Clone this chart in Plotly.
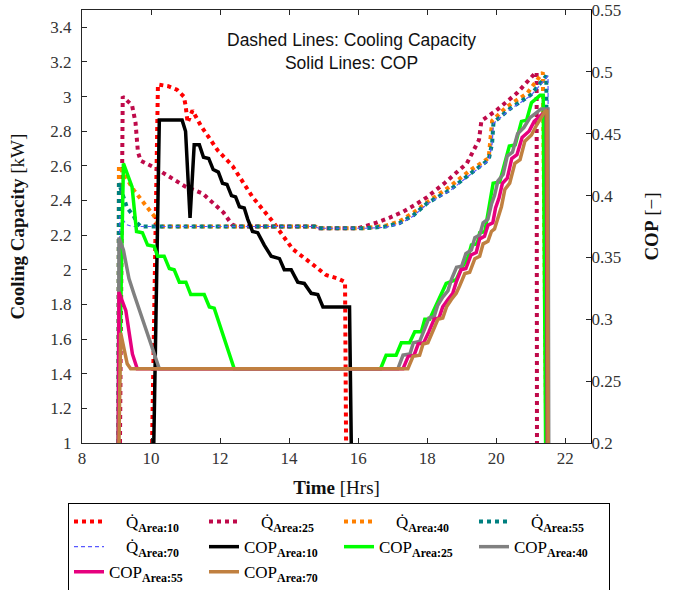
import plotly.graph_objects as go

# ---------------- data ----------------
# Cooling capacity [kW] (left axis)
t_q10 = [10.03, 10.2, 10.5, 10.75, 10.95, 11.0, 11.06, 11.2, 11.45, 11.93, 12.36, 12.94, 13.52, 14.1, 14.69, 15.07, 15.4, 15.62, 15.65]
q_q10 = [1.0, 3.07, 3.06, 3.04, 3.0, 2.95, 2.85, 2.92, 2.83, 2.69, 2.6, 2.42, 2.28, 2.12, 2.03, 1.97, 1.95, 1.93, 1.0]

t_q25 = [9.1, 9.18, 9.45, 9.55, 9.62, 9.7, 10.1, 10.5, 11.0, 11.5, 11.85, 12.1, 12.35, 12.5, 14.75, 14.85, 16.0, 16.5, 16.9, 17.3, 17.65, 18.0, 18.5, 19.15, 19.5, 19.57, 20.0, 20.6, 21.1, 21.17, 21.18]
q_q25 = [1.0, 3.0, 2.95, 2.85, 2.68, 2.63, 2.59, 2.54, 2.48, 2.44, 2.38, 2.33, 2.26, 2.25, 2.25, 2.24, 2.24, 2.27, 2.30, 2.335, 2.375, 2.42, 2.5, 2.615, 2.75, 2.86, 2.92, 3.02, 3.13, 3.14, 1.0]

t_q40 = [9.05, 9.07, 9.5, 9.8, 10.09, 10.2, 10.3, 14.75, 14.85, 16.2, 16.8, 17.2, 17.6, 18.0, 18.65, 19.25, 19.78, 19.83, 19.88, 20.3, 20.9, 21.35, 21.45]
q_q40 = [1.0, 2.6, 2.46, 2.385, 2.31, 2.255, 2.25, 2.25, 2.24, 2.24, 2.255, 2.28, 2.33, 2.39, 2.48, 2.575, 2.645, 2.75, 2.86, 2.94, 3.02, 3.14, 1.0]

t_q55 = [9.05, 9.07, 9.3, 9.5, 9.6, 9.7, 14.75, 14.85, 16.2, 16.8, 17.2, 17.6, 18.0, 18.65, 19.25, 19.78, 19.88, 19.92, 20.4, 21.0, 21.45, 21.5]
q_q55 = [1.0, 2.5, 2.36, 2.31, 2.27, 2.25, 2.25, 2.24, 2.24, 2.25, 2.27, 2.315, 2.385, 2.46, 2.555, 2.635, 2.73, 2.85, 2.93, 3.01, 3.12, 1.0]

t_q70 = [9.05, 9.1, 9.3, 9.45, 14.75, 14.85, 16.2, 16.8, 17.2, 17.6, 18.0, 18.65, 19.25, 19.78, 19.88, 19.92, 20.4, 21.0, 21.5, 21.53]
q_q70 = [1.0, 2.31, 2.26, 2.25, 2.25, 2.24, 2.24, 2.245, 2.265, 2.31, 2.38, 2.455, 2.55, 2.63, 2.725, 2.845, 2.925, 3.005, 3.12, 1.0]

# COP [-] (right axis)
t_c10 = [10.08, 10.24, 10.9, 11.0, 11.13, 11.25, 11.4, 11.52, 11.67, 11.8, 11.95, 12.07, 12.2, 12.33, 12.45, 12.56, 12.7, 12.8, 12.94, 13.09, 13.28, 13.48, 13.72, 13.86, 14.06, 14.25, 14.44, 14.64, 14.83, 14.98, 15.75, 15.8]
c_c10 = [0.2, 0.461, 0.461, 0.452, 0.382, 0.441, 0.441, 0.431, 0.43, 0.421, 0.419, 0.41, 0.409, 0.40, 0.399, 0.391, 0.39, 0.381, 0.371, 0.37, 0.36, 0.351, 0.349, 0.34, 0.34, 0.33, 0.329, 0.321, 0.32, 0.31, 0.31, 0.2]

t_c25 = [9.05, 9.2, 9.45, 9.58, 9.75, 9.9, 10.09, 10.19, 10.38, 10.53, 10.67, 10.82, 11.01, 11.15, 11.54, 11.69, 11.83, 12.41, 16.65, 16.81, 17.1, 17.25, 17.49, 17.64, 17.83, 17.93, 18.07, 18.27, 18.41, 18.55, 18.84, 18.99, 19.18, 19.28, 19.45, 19.52, 19.67, 19.8, 19.91, 20.1, 20.38, 20.55, 20.73, 20.88, 21.02, 21.27, 21.36, 21.43]
c_c25 = [0.2, 0.426, 0.407, 0.371, 0.37, 0.36, 0.359, 0.351, 0.351, 0.341, 0.34, 0.33, 0.33, 0.32, 0.32, 0.31, 0.309, 0.26, 0.26, 0.271, 0.271, 0.281, 0.281, 0.29, 0.29, 0.3, 0.3, 0.312, 0.32, 0.329, 0.332, 0.341, 0.35, 0.36, 0.361, 0.37, 0.371, 0.391, 0.41, 0.411, 0.44, 0.441, 0.46, 0.461, 0.475, 0.481, 0.481, 0.2]

t_c40 = [9.05, 9.07, 9.2, 9.36, 9.51, 10.24, 17.15, 17.3, 17.5, 17.6, 17.78, 17.9, 18.05, 18.2, 18.3, 18.45, 18.6, 18.7, 18.85, 19.0, 19.12, 19.28, 19.38, 19.52, 19.62, 19.76, 19.86, 19.95, 20.05, 20.2, 20.32, 20.47, 20.62, 20.8, 20.98, 21.3, 21.5, 21.52]
c_c40 = [0.2, 0.366, 0.356, 0.333, 0.32, 0.26, 0.26, 0.271, 0.272, 0.281, 0.282, 0.291, 0.301, 0.302, 0.311, 0.318, 0.323, 0.332, 0.342, 0.343, 0.353, 0.356, 0.366, 0.368, 0.378, 0.381, 0.393, 0.40, 0.412, 0.417, 0.432, 0.435, 0.45, 0.455, 0.463, 0.47, 0.47, 0.2]

t_c55 = [9.05, 9.07, 9.27, 9.46, 9.6, 17.3, 17.45, 17.62, 17.74, 17.9, 18.05, 18.2, 18.34, 18.45, 18.6, 18.74, 18.84, 18.98, 19.12, 19.27, 19.42, 19.52, 19.66, 19.76, 19.9, 19.98, 20.08, 20.18, 20.32, 20.45, 20.6, 20.75, 20.95, 21.1, 21.38, 21.45, 21.48]
c_c55 = [0.2, 0.322, 0.307, 0.272, 0.26, 0.26, 0.27, 0.271, 0.28, 0.281, 0.29, 0.3, 0.301, 0.31, 0.316, 0.321, 0.33, 0.34, 0.341, 0.352, 0.354, 0.365, 0.367, 0.376, 0.378, 0.39, 0.398, 0.41, 0.414, 0.43, 0.433, 0.447, 0.452, 0.46, 0.467, 0.468, 0.2]

t_c70 = [9.07, 9.12, 9.31, 9.41, 17.44, 17.59, 17.78, 17.88, 18.02, 18.17, 18.31, 18.45, 18.56, 18.7, 18.84, 18.94, 19.09, 19.23, 19.38, 19.52, 19.62, 19.76, 19.86, 19.95, 20.06, 20.15, 20.25, 20.39, 20.54, 20.69, 20.83, 21.02, 21.17, 21.41, 21.47, 21.5]
c_c70 = [0.2, 0.289, 0.264, 0.26, 0.26, 0.27, 0.271, 0.28, 0.281, 0.29, 0.30, 0.301, 0.31, 0.316, 0.321, 0.327, 0.337, 0.338, 0.349, 0.351, 0.361, 0.363, 0.371, 0.373, 0.383, 0.391, 0.405, 0.41, 0.426, 0.429, 0.444, 0.449, 0.457, 0.468, 0.469, 0.2]

x_ticks = [8, 10, 12, 14, 16, 18, 20, 22]
left_ticks = [1, 1.2, 1.4, 1.6, 1.8, 2, 2.2, 2.4, 2.6, 2.8, 3, 3.2, 3.4]
right_ticks = [0.2, 0.25, 0.3, 0.35, 0.4, 0.45, 0.5, 0.55]

NB = "\u00a0"
def qname(a):
    return NB * 4 + "Q\u0307<sub><b>Area:" + a + "</b></sub>"
def cname(a):
    return "COP<sub><b>Area:" + a + "</b></sub>"

fig = go.Figure()

q_series = [
    (t_q10, q_q10, "10", "#FF0000", 4, "dot"),
    (t_q25, q_q25, "25", "#BF0A4A", 4, "dot"),
    (t_q40, q_q40, "40", "#FF8000", 4, "dot"),
    (t_q55, q_q55, "55", "#008080", 4, "dot"),
    (t_q70, q_q70, "70", "#5858FF", 1.2, "4px,3px"),
]
for t, q, a, col, w, d in q_series:
    fig.add_trace(go.Scatter(x=t, y=q, mode="lines", name=qname(a),
                             line=dict(color=col, width=w, dash=d), yaxis="y"))

c_series = [
    (t_c10, c_c10, "10", "#000000"),
    (t_c25, c_c25, "25", "#00FF00"),
    (t_c40, c_c40, "40", "#808080"),
    (t_c55, c_c55, "55", "#E6007E"),
    (t_c70, c_c70, "70", "#C08040"),
]
for t, c, a, col in c_series:
    fig.add_trace(go.Scatter(x=t, y=c, mode="lines", name=cname(a),
                             line=dict(color=col, width=3.5), yaxis="y2"))

serif = "Liberation Serif, Times New Roman, serif"
axcol = "#262626"

fig.update_layout(
    width=681, height=590,
    margin=dict(l=82, r=90, t=10, b=147, autoexpand=False),
    paper_bgcolor="white", plot_bgcolor="white",
    font=dict(family=serif, color="#222222"),
    xaxis=dict(range=[8, 22.745], tickvals=x_ticks, ticks="inside", ticklen=5,
               tickcolor=axcol, showline=True, linecolor=axcol, linewidth=1,
               mirror="ticks", showgrid=False, zeroline=False, automargin=False,
               tickfont=dict(family=serif, size=17, color="#333333"),
               title=dict(text="<b>Time</b> [Hrs]", font=dict(family=serif, size=19, color="#111111"),
                          standoff=13)),
    yaxis=dict(range=[1, 3.5], tickvals=left_ticks, ticks="inside", ticklen=5,
               tickcolor=axcol, showline=True, linecolor=axcol, linewidth=1,
               mirror=True, showgrid=False, zeroline=False, automargin=False,
               ticklabelstandoff=6, ticklabeloverflow="allow",
               tickfont=dict(family=serif, size=17, color="#333333"),
               title=dict(text="<b>Cooling Capacity</b> [kW]", font=dict(family=serif, size=19, color="#111111"),
                          standoff=20)),
    yaxis2=dict(range=[0.2, 0.55], tickvals=right_ticks, overlaying="y", side="right",
                ticks="inside", ticklen=5, tickcolor=axcol, showline=True, automargin=False,
                linecolor="#000000", linewidth=1, showgrid=False, zeroline=False,
                ticklabelstandoff=-4, ticklabeloverflow="allow",
                tickfont=dict(family=serif, size=17, color="#333333"),
                title=dict(text="<b>COP</b> [\u2212]", font=dict(family=serif, size=19, color="#111111"),
                           standoff=24)),
    legend=dict(orientation="h", x=-0.0275, xanchor="left", y=-0.1386, yanchor="top",
                bordercolor="#000000", borderwidth=1, bgcolor="white",
                entrywidth=90, entrywidthmode="pixels", itemwidth=30,
                tracegroupgap=0, font=dict(family=serif, size=17, color="#000000")),
    showlegend=True,
    annotations=[
        dict(text="Dashed Lines: Cooling Capacity<br>Solid Lines: COP", x=0.53, y=0.905,
             xref="paper", yref="paper", xanchor="center", yanchor="middle",
             showarrow=False, align="center",
             font=dict(family="Liberation Sans, Arial, sans-serif", size=17.5, color="#111111")),
    ],
)

# remove the default 8px page margin so the figure fills the window exactly
fig.write_html("out.html", config={"displayModeBar": False},
               post_script="document.body.style.margin='0px';")
